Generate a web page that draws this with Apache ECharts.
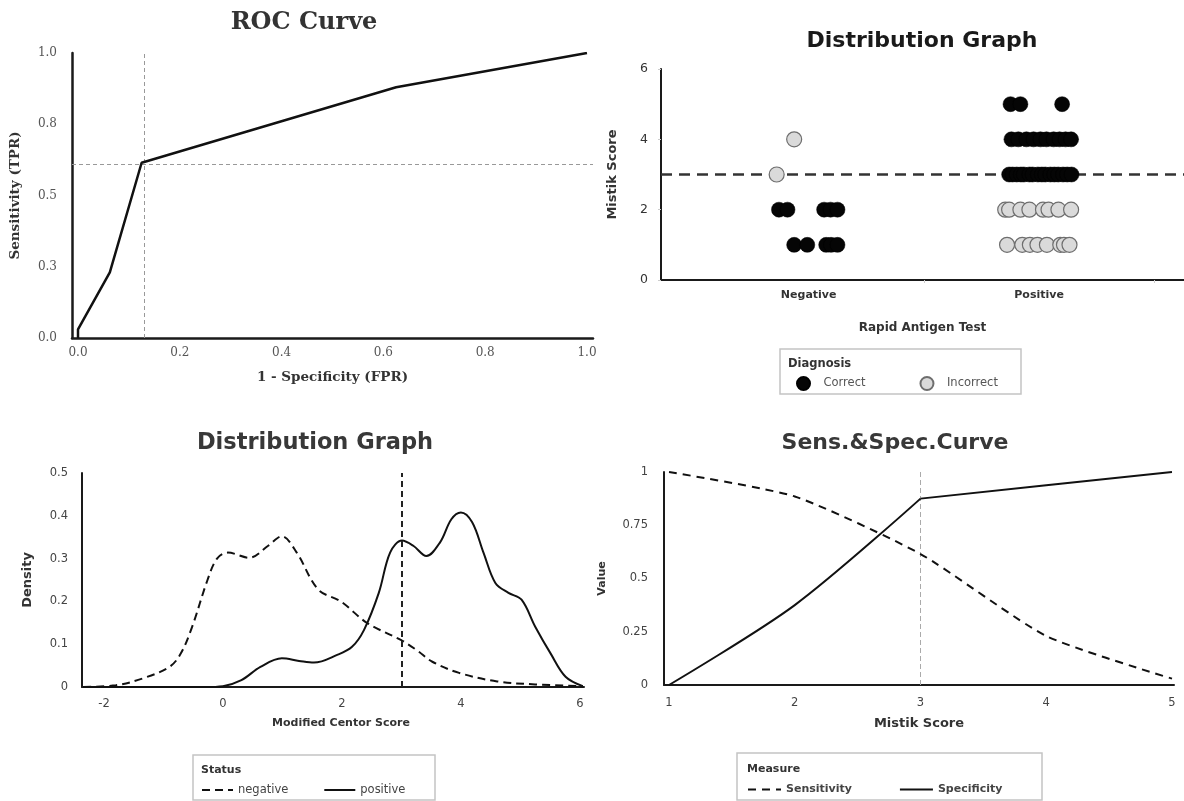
<!DOCTYPE html>
<html>
<head>
<meta charset="utf-8">
<script src="https://cdn.jsdelivr.net/npm/echarts/dist/echarts.min.js"></script>
<style>
html,body{margin:0;padding:0;background:#fff;}
#chart{width:1184px;height:801px;}
</style>
</head>
<body>
<div id="chart"></div>
<script>
// ---------- ROC curve ----------
const rocFPR = [0, 0, 0.0625, 0.125, 0.625, 1];
const rocTPR = [0, 0.03, 0.23, 0.615, 0.88, 1];
const rocCutFPR = 0.125;
const rocCutTPR = 0.615;
const rocXTicks = [0, 0.2, 0.4, 0.6, 0.8, 1.0];

// ---------- Distribution graph (dot plot) ----------
const distCategories = ['Negative', 'Positive'];
const correctX = [0.871, 0.908, 1.067, 1.095, 1.125,
                  0.937, 0.994, 1.076, 1.097, 1.125,
                  1.876, 1.919, 2.100,
                  1.880, 1.910, 1.945, 1.976, 2.006, 2.032, 2.063, 2.089, 2.115, 2.139,
                  1.870, 1.885, 1.903, 1.921, 1.934, 1.958, 1.972, 1.995, 2.012, 2.027, 2.049, 2.066, 2.083, 2.104, 2.122, 2.141];
const correctY = [2, 2, 2, 2, 2,
                  1, 1, 1, 1, 1,
                  5, 5, 5,
                  4, 4, 4, 4, 4, 4, 4, 4, 4, 4,
                  3, 3, 3, 3, 3, 3, 3, 3, 3, 3, 3, 3, 3, 3, 3, 3];
const incorrectX = [0.861, 0.937,
                    1.853, 1.870, 1.919, 1.958, 2.017, 2.041, 2.084, 2.139,
                    1.861, 1.927, 1.960, 1.993, 2.034, 2.092, 2.108, 2.132];
const incorrectY = [3, 4,
                    2, 2, 2, 2, 2, 2, 2, 2,
                    1, 1, 1, 1, 1, 1, 1, 1];
const distCutScore = 3;

// ---------- Density of Modified Centor Score ----------
const densNegX = [-2.35, -1.8, -1.35, -0.9, -0.71, -0.52, -0.26, -0.1, 0.08, 0.44, 0.76, 0.99, 1.24, 1.6, 1.98, 2.43, 2.99, 3.26, 3.52, 3.97, 4.61, 5.25, 6.05];
const densNegY = [0, 0.004, 0.02, 0.047, 0.078, 0.14, 0.25, 0.30, 0.314, 0.302, 0.33, 0.352, 0.314, 0.228, 0.20, 0.149, 0.11, 0.086, 0.059, 0.033, 0.013, 0.006, 0.002];
const densPosX = [-2.35, -0.3, 0, 0.31, 0.63, 0.99, 1.28, 1.53, 1.92, 2.17, 2.37, 2.62, 2.81, 3.01, 3.2, 3.42, 3.65, 3.84, 4.0, 4.19, 4.38, 4.58, 4.8, 5.02, 5.25, 5.51, 5.76, 6.05];
const densPosY = [0, 0, 0.002, 0.016, 0.047, 0.067, 0.061, 0.057, 0.075, 0.094, 0.133, 0.22, 0.314, 0.342, 0.33, 0.306, 0.338, 0.392, 0.408, 0.385, 0.314, 0.243, 0.22, 0.204, 0.141, 0.078, 0.024, 0.002];
const densXTicks = [-2, 0, 2, 4, 6];
const densCut = 3;

// ---------- Sensitivity & Specificity ----------
const mistikScores = [1, 2, 3, 4, 5];
const sensitivity = [1, 0.885, 0.615, 0.23, 0.03];
const specificity = [0, 0.375, 0.875, 0.9375, 1];
const sensSpecCut = 3;

const zip = (a, b) => a.map((v, i) => [v, b[i]]);
const SANS = '"DejaVu Sans", sans-serif';
const SERIF = '"DejaVu Serif", serif';

const chart = echarts.init(document.getElementById('chart'), null, { renderer: 'canvas' });

const lineLegendBase = {
  selectedMode: false,
  padding: 0,
  itemStyle: { opacity: 0 },
  lineStyle: { width: 2 }
};

// specificity: curved up to the cut-off, straight after it (sharp corner at the cut-off)
const specPts = zip(mistikScores, specificity);
const cutIdx = mistikScores.indexOf(sensSpecCut);

const option = {
  backgroundColor: '#ffffff',
  animation: false,
  grid: [
    { left: 72, top: 53, width: 521, height: 285 },
    { left: 661, top: 69, width: 523, height: 211 },
    { left: 82, top: 473, width: 502, height: 214 },
    { left: 664, top: 472, width: 510, height: 213 }
  ],
  xAxis: [
    {
      gridIndex: 0, type: 'value', min: -0.0118, max: 1.0118,
      axisLine: { show: true, onZero: false, lineStyle: { color: '#1a1a1a', width: 2.5 } },
      axisTick: { show: false }, splitLine: { show: false },
      axisLabel: { customValues: rocXTicks, formatter: v => v.toFixed(1), color: '#555', fontFamily: SERIF, fontSize: 12, margin: 9 },
      name: '1 - Specificity (FPR)', nameLocation: 'middle', nameGap: 32,
      nameTextStyle: { fontFamily: SERIF, fontWeight: 'bold', fontSize: 13.5, color: '#333' }
    },
    {
      gridIndex: 1, type: 'value', min: 0.359, max: 2.629,
      axisLine: { show: true, onZero: false, lineStyle: { color: '#1a1a1a', width: 2 } },
      axisTick: { show: true, customValues: [1.5, 2.5], length: 3, lineStyle: { color: '#ccc' } },
      splitLine: { show: false },
      axisLabel: { customValues: [1, 2], formatter: v => distCategories[Math.round(v) - 1], color: '#333', fontFamily: SANS, fontWeight: 'bold', fontSize: 11, margin: 10 },
      name: 'Rapid Antigen Test', nameLocation: 'middle', nameGap: 42,
      nameTextStyle: { fontFamily: SANS, fontWeight: 'bold', fontSize: 12, color: '#333' }
    },
    {
      gridIndex: 2, type: 'value', min: -2.37, max: 6.07,
      axisLine: { show: true, onZero: false, lineStyle: { color: '#1a1a1a', width: 2 } },
      axisTick: { show: false }, splitLine: { show: false },
      axisLabel: { customValues: densXTicks, color: '#444', fontFamily: SANS, fontSize: 11.5, margin: 11 },
      name: 'Modified Centor Score', nameLocation: 'middle', nameGap: 31,
      nameTextStyle: { fontFamily: SANS, fontWeight: 'bold', fontSize: 11, color: '#333', padding: [0, 0, 0, 16] }
    },
    {
      gridIndex: 3, type: 'value', min: 0.96, max: 5.016,
      axisLine: { show: true, onZero: false, lineStyle: { color: '#1a1a1a', width: 2 } },
      axisTick: { show: false }, splitLine: { show: false },
      axisLabel: { customValues: mistikScores, color: '#444', fontFamily: SANS, fontSize: 11.5, margin: 12 },
      name: 'Mistik Score', nameLocation: 'middle', nameGap: 32,
      nameTextStyle: { fontFamily: SANS, fontWeight: 'bold', fontSize: 13, color: '#333' }
    }
  ],
  yAxis: [
    {
      gridIndex: 0, type: 'value', min: 0, max: 1, interval: 0.25,
      axisLine: { show: true, onZero: false, lineStyle: { color: '#1a1a1a', width: 2.5 } },
      axisTick: { show: false }, splitLine: { show: false },
      axisLabel: { formatter: v => v.toFixed(1), color: '#555', fontFamily: SERIF, fontSize: 12, margin: 15 },
      name: 'Sensitivity (TPR)', nameLocation: 'middle', nameGap: 50,
      nameTextStyle: { fontFamily: SERIF, fontWeight: 'bold', fontSize: 13.5, color: '#333' }
    },
    {
      gridIndex: 1, type: 'value', min: 0, max: 6, interval: 2,
      axisLine: { show: true, onZero: false, lineStyle: { color: '#1a1a1a', width: 2 } },
      axisTick: { show: true, length: 3, lineStyle: { color: '#ccc' } }, splitLine: { show: false },
      axisLabel: { color: '#333', fontFamily: SANS, fontSize: 12.5, margin: 13 },
      name: 'Mistik Score', nameLocation: 'middle', nameGap: 42,
      nameTextStyle: { fontFamily: SANS, fontWeight: 'bold', fontSize: 13, color: '#333' }
    },
    {
      gridIndex: 2, type: 'value', min: 0, max: 0.5, interval: 0.1,
      axisLine: { show: true, onZero: false, lineStyle: { color: '#1a1a1a', width: 2 } },
      axisTick: { show: false }, splitLine: { show: false },
      axisLabel: { formatter: v => (v === 0 ? '0' : v.toFixed(1)), color: '#444', fontFamily: SANS, fontSize: 11.5, margin: 14 },
      name: 'Density', nameLocation: 'middle', nameGap: 48,
      nameTextStyle: { fontFamily: SANS, fontWeight: 'bold', fontSize: 13, color: '#333' }
    },
    {
      gridIndex: 3, type: 'value', min: 0, max: 1, interval: 0.25,
      axisLine: { show: true, onZero: false, lineStyle: { color: '#1a1a1a', width: 2 } },
      axisTick: { show: false }, splitLine: { show: false },
      axisLabel: { color: '#444', fontFamily: SANS, fontSize: 11.5, margin: 16 },
      name: 'Value', nameLocation: 'middle', nameGap: 56,
      nameTextStyle: { fontFamily: SANS, fontWeight: 'bold', fontSize: 11, color: '#333' }
    }
  ],
  legend: [
    {
      data: ['Correct', 'Incorrect'], left: 796, top: 376, padding: 0, itemWidth: 30, itemHeight: 13, itemGap: 54,
      textStyle: { fontFamily: SANS, fontSize: 11.5, color: '#555' }, selectedMode: false
    },
    Object.assign({}, lineLegendBase, {
      data: ['negative', 'positive'], left: 201, top: 784, itemWidth: 31, itemHeight: 14, itemGap: 35,
      textStyle: { fontFamily: SANS, fontSize: 11.5, color: '#444' }
    }),
    Object.assign({}, lineLegendBase, {
      data: ['Sensitivity', 'Specificity'], left: 747, top: 784, itemWidth: 33, itemHeight: 14, itemGap: 47,
      textStyle: { fontFamily: SANS, fontSize: 11, fontWeight: 'bold', color: '#444' }
    })
  ],
  graphic: [
    { type: 'text', x: 304, y: 23, style: { text: 'ROC Curve', font: 'bold 24px "DejaVu Serif"', fill: '#333', align: 'center', verticalAlign: 'middle' } },
    { type: 'text', x: 922, y: 41, style: { text: 'Distribution Graph', font: 'bold 22px "DejaVu Sans"', fill: '#1a1a1a', align: 'center', verticalAlign: 'middle' } },
    { type: 'text', x: 315, y: 443, style: { text: 'Distribution Graph', font: 'bold 22.5px "DejaVu Sans"', fill: '#383838', align: 'center', verticalAlign: 'middle' } },
    { type: 'text', x: 895, y: 443, style: { text: 'Sens.&Spec.Curve', font: 'bold 22px "DejaVu Sans"', fill: '#383838', align: 'center', verticalAlign: 'middle' } },
    { type: 'rect', shape: { x: 780, y: 349, width: 241, height: 45 }, style: { fill: 'none', stroke: '#c4c4c4', lineWidth: 1.5 } },
    { type: 'text', x: 788, y: 364, style: { text: 'Diagnosis', font: 'bold 11.5px "DejaVu Sans"', fill: '#333', verticalAlign: 'middle' } },
    { type: 'rect', shape: { x: 193, y: 755, width: 242, height: 45 }, style: { fill: 'none', stroke: '#c4c4c4', lineWidth: 1.5 } },
    { type: 'text', x: 201, y: 770, style: { text: 'Status', font: 'bold 11px "DejaVu Sans"', fill: '#333', verticalAlign: 'middle' } },
    { type: 'rect', shape: { x: 737, y: 753, width: 305, height: 47 }, style: { fill: 'none', stroke: '#c4c4c4', lineWidth: 1.5 } },
    { type: 'text', x: 747, y: 769, style: { text: 'Measure', font: 'bold 11px "DejaVu Sans"', fill: '#333', verticalAlign: 'middle' } }
  ],
  series: [
    // ROC
    {
      type: 'line', xAxisIndex: 0, yAxisIndex: 0, data: zip(rocFPR, rocTPR),
      showSymbol: false, symbol: 'none', lineStyle: { color: '#111', width: 2.5 }, z: 3,
      markLine: {
        silent: true, symbol: 'none', label: { show: false }, z: 1,
        lineStyle: { color: '#999', width: 1, type: [4, 3] },
        data: [{ xAxis: rocCutFPR }, { yAxis: rocCutTPR }]
      }
    },
    // dot plot: reference line drawn underneath the dots
    {
      type: 'line', xAxisIndex: 1, yAxisIndex: 1, data: [], z: 1,
      markLine: {
        silent: true, symbol: 'none', label: { show: false }, z: 1,
        lineStyle: { color: '#333', width: 2.5, type: [11, 7] },
        data: [{ yAxis: distCutScore }]
      }
    },
    {
      type: 'scatter', name: 'Correct', xAxisIndex: 1, yAxisIndex: 1, data: zip(correctX, correctY),
      symbol: 'circle', symbolSize: 15, itemStyle: { color: '#050505', borderColor: '#000', borderWidth: 0.5, opacity: 1 }, z: 6
    },
    {
      type: 'scatter', name: 'Incorrect', xAxisIndex: 1, yAxisIndex: 1, data: zip(incorrectX, incorrectY),
      symbol: 'circle', symbolSize: 15, itemStyle: { color: '#dadada', borderColor: '#6e6e6e', borderWidth: 1.2, opacity: 1 }, z: 6
    },
    // density
    {
      type: 'line', name: 'negative', xAxisIndex: 2, yAxisIndex: 2, data: zip(densNegX, densNegY),
      smooth: 0.35, showSymbol: false, symbol: 'none', itemStyle: { color: '#111' },
      lineStyle: { color: '#111', width: 2, type: [8, 5] }
    },
    {
      type: 'line', name: 'positive', xAxisIndex: 2, yAxisIndex: 2, data: zip(densPosX, densPosY),
      smooth: 0.35, showSymbol: false, symbol: 'none', itemStyle: { color: '#111' },
      lineStyle: { color: '#111', width: 2 },
      markLine: {
        silent: true, symbol: 'none', label: { show: false },
        lineStyle: { color: '#222', width: 2, type: [6, 4] },
        data: [{ xAxis: densCut }]
      }
    },
    // sens & spec
    {
      type: 'line', name: 'Sensitivity', xAxisIndex: 3, yAxisIndex: 3, data: zip(mistikScores, sensitivity),
      smooth: 0.2, showSymbol: false, symbol: 'none', itemStyle: { color: '#111' },
      lineStyle: { color: '#111', width: 2, type: [8, 6] }
    },
    {
      type: 'line', name: 'Specificity', xAxisIndex: 3, yAxisIndex: 3, data: specPts.slice(0, cutIdx + 1),
      smooth: 0.3, showSymbol: false, symbol: 'none', itemStyle: { color: '#111' },
      lineStyle: { color: '#111', width: 2 },
      markLine: {
        silent: true, symbol: 'none', label: { show: false }, z: 1,
        lineStyle: { color: '#aaa', width: 1, type: [5, 3] },
        data: [{ xAxis: sensSpecCut }]
      }
    },
    {
      type: 'line', name: 'Specificity', xAxisIndex: 3, yAxisIndex: 3, data: specPts.slice(cutIdx),
      smooth: false, showSymbol: false, symbol: 'none', itemStyle: { color: '#111' },
      lineStyle: { color: '#111', width: 2 }
    }
  ]
};

chart.setOption(option);
</script>
</body>
</html>
